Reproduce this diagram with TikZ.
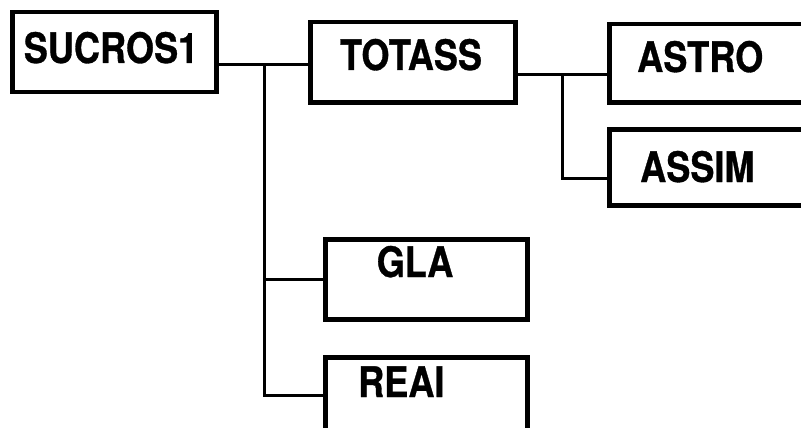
\documentclass[tikz,border=0pt]{standalone}
\usepackage{fontspec}
\usepackage{graphicx}
\setmainfont{TeX Gyre Heros}[BoldFeatures={FakeBold=0.8}]
\newcommand{\narrowlabel}[1]{\scalebox{0.86}[1]{\bfseries #1}}
\tikzset{
  box/.style={draw, line width=4.5pt, rectangle, inner sep=0pt, anchor=north west},
  wire/.style={draw, line width=3pt},
  lbl/.style={inner sep=0pt, font=\fontsize{42}{50}\selectfont}
}
\begin{document}
\begin{tikzpicture}[x=1pt, y=-1pt]
\useasboundingbox (0,0) rectangle (801,428);
\clip (0,0) rectangle (801,428);
\fill[white] (0,0) rectangle (801,428);

% boxes
\node[box, minimum width=204pt, minimum height=80pt] (sucros) at (10,10) {};
\node[box, minimum width=205pt, minimum height=80pt] (totass) at (308,20) {};
\node[box, minimum width=230pt, minimum height=78pt] (astro) at (607,22) {};
\node[box, minimum width=230pt, minimum height=76pt] (assim) at (607,127) {};
\node[box, minimum width=202pt, minimum height=80pt] (gla) at (323,237) {};
\node[box, minimum width=202pt, minimum height=76pt] (reai) at (323,355) {};

% labels
\node[lbl, anchor=base] (t-sucros) at (111,63) {\narrowlabel{SUCROS1}};
\node[lbl, anchor=base] (t-totass) at (411,70) {\narrowlabel{TOTASS}};
\node[lbl, anchor=base west] (t-astro) at (637,72) {\narrowlabel{ASTRO}};
\node[lbl, anchor=base west] (t-assim) at (640,182) {\narrowlabel{ASSIM}};
\node[lbl, anchor=base] (t-gla) at (415,277) {\narrowlabel{GLA}};
\node[lbl, anchor=base west] (t-reai) at (358,397) {\narrowlabel{REAI}};

% junctions
\coordinate (j1) at (264,65);
\coordinate (j2) at (562,75);
\coordinate (j3) at (562,178);

% connectors
\draw[wire] (sucros.east |- j1) -- (totass.west |- j1);
\draw[wire] (j1) |- (gla.west);
\draw[wire] (j1) |- (reai.west);
\draw[wire] (totass.east |- j2) -- (astro.west |- j2);
\draw[wire] (j2) -- (j3) -- (assim.west |- j3);
\end{tikzpicture}
\end{document}
